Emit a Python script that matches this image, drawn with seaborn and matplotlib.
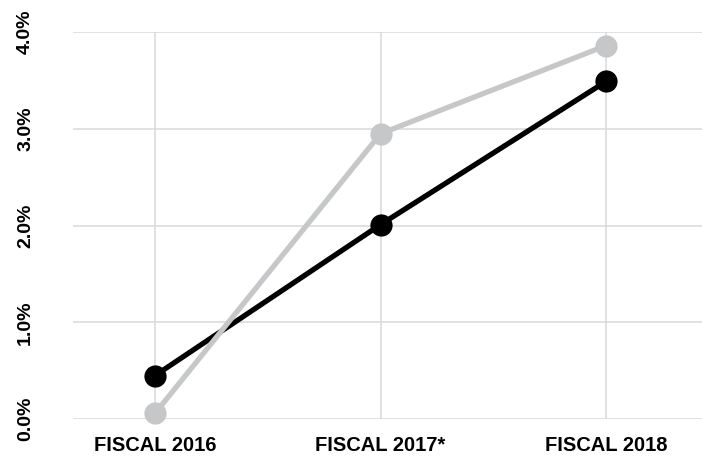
import matplotlib
matplotlib.use("Agg")
import matplotlib.pyplot as plt
import seaborn as sns
import pandas as pd

# Fiscal years and the two growth-rate series (percent)
years = ["FISCAL 2016", "FISCAL 2017*", "FISCAL 2018"]
rate_dark = [0.45, 2.01, 3.49]
rate_light = [0.06, 2.95, 3.86]
y_ticks = [0.0, 1.0, 2.0, 3.0, 4.0]
y_tick_labels = ["0.0%", "1.0%", "2.0%", "3.0%", "4.0%"]

df = pd.DataFrame({
    "year": years * 2,
    "rate": rate_dark + rate_light,
    "series": ["dark"] * len(years) + ["light"] * len(years),
})

sns.set_style("white")
plt.rcParams["font.family"] = ["Liberation Sans", "DejaVu Sans"]

fig = plt.figure(figsize=(7.02, 4.59), dpi=100)
ax = fig.add_axes([0.104, 0.087, 0.896, 0.843])

sns.lineplot(
    data=df, x="year", y="rate", hue="series",
    palette={"dark": "#000000", "light": "#c5c7c9"},
    hue_order=["dark", "light"],
    marker="o", markersize=16, markeredgewidth=0,
    linewidth=3.8, legend=False, ax=ax, clip_on=False,
)

ax.set_xlim(-0.364, 2.426)
ax.set_ylim(0, 4)
ax.set_yticks(y_ticks)
ax.set_yticklabels(y_tick_labels)
ax.set_xlabel("")
ax.set_ylabel("")

ax.grid(True, color="#d9d9d9", linewidth=1.1)
ax.set_axisbelow(True)
for s in ax.spines.values():
    s.set_visible(False)
ax.tick_params(axis="both", length=0, colors="black")
ax.tick_params(axis="y", pad=28)
ax.tick_params(axis="x", pad=12)

for lbl in ax.get_yticklabels():
    lbl.set_rotation(90)
    lbl.set_va("center")
    lbl.set_ha("right")
    lbl.set_fontsize(14)
    lbl.set_fontweight("bold")
for lbl in ax.get_xticklabels():
    lbl.set_fontsize(14.5)
    lbl.set_fontweight("bold")

fig.savefig("out.png", dpi=100)
